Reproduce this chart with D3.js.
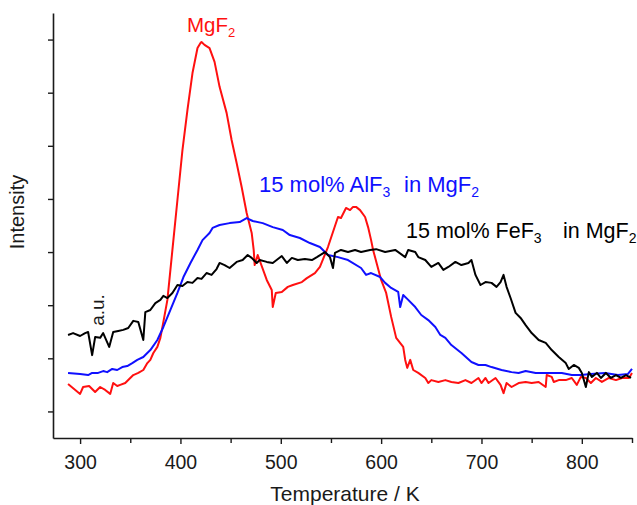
<!DOCTYPE html>
<html>
<head>
<meta charset="utf-8">
<script src="https://cdn.jsdelivr.net/npm/d3@7"></script>
<style>
  html, body { margin: 0; padding: 0; background: #fff; }
  svg { display: block; font-family: "Liberation Sans", Arial, Helvetica, sans-serif; }
</style>
</head>
<body>
<svg id="chart" width="637" height="505"></svg>
<script>
// Temperature-programmed desorption profiles, intensity in arbitrary units.

// Pure MgF2
const mgf2T = [288,300,303,309,315,320,325,330,333,337,340,345,353,358,363,367,370,373,377,380,383,387,390,392,397,402,407,412,417,420,421,424,429,434,439,446,451,456,461,466,471,473,474,477,486,491,492,495,501,507,512,521,526,534,539,547,557,560,565,569,572,575,579,584,587,590,592,600,605,610,615,622,624,626,629,632,637,644,647,650,657,664,670,677,684,690,697,700,704,707,714,719,722,725,730,737,744,750,757,764,765,770,772,777,784,790,795,799,804,809,814,820,827,834,840,847,850];
const mgf2I = [203,166,192,196,173,192,181,166,207,196,200,207,237,245,256,282,294,320,343,377,437,520,633,708,896,1084,1235,1374,1468,1487,1491,1480,1468,1416,1322,1224,1122,1035,945,847,772,708,651,689,595,557,493,546,550,569,576,587,602,621,644,719,832,828,866,858,870,870,858,832,794,745,708,595,546,456,377,343,294,264,294,256,245,226,207,218,211,218,211,207,218,207,226,207,226,207,226,200,169,207,192,207,211,207,211,192,237,230,211,218,218,226,200,230,226,207,226,211,226,218,226,226,245];

// 15 mol% AlF3 in MgF2
const alf3T = [288,300,308,312,318,323,327,332,337,342,347,352,357,363,370,377,383,390,397,403,410,417,422,429,432,439,449,459,466,472,482,492,502,509,519,529,539,547,557,567,580,585,590,599,604,610,617,619,622,627,634,640,647,654,659,664,670,680,690,697,704,710,720,730,737,744,754,770,780,790,799,809,823,836,846,850];
const alf3I = [245,241,237,245,245,252,248,260,256,267,271,282,294,305,331,369,418,482,546,606,659,708,745,772,791,802,809,813,828,817,809,794,783,764,753,734,719,689,681,670,640,614,621,606,584,565,550,493,538,520,493,463,444,418,388,377,350,320,286,275,275,267,256,248,245,252,245,245,245,237,237,241,245,237,241,260];

// 15 mol% FeF3 in MgF2
const fef3T = [288,293,300,305,308,312,315,320,323,329,333,338,343,348,353,358,363,365,370,375,380,383,387,392,397,402,407,412,417,421,426,431,436,439,444,449,456,462,467,471,476,479,486,492,501,506,511,517,524,531,536,544,549,552,554,560,567,574,580,589,595,604,614,624,627,634,637,644,650,657,662,667,674,680,687,690,694,699,704,710,715,719,722,725,729,734,739,744,750,757,764,770,777,784,787,792,797,800,804,807,810,815,819,824,829,834,839,844,849];
const fef3I = [388,395,384,395,399,312,380,377,395,343,399,403,407,414,441,437,369,474,482,508,520,535,527,546,576,572,587,584,602,599,621,614,636,659,651,640,663,670,689,678,659,670,663,659,685,659,678,670,674,670,681,700,681,640,697,708,700,708,700,708,711,700,708,681,708,700,681,670,644,659,633,644,663,651,659,670,614,576,587,584,569,587,614,569,527,471,452,425,395,369,358,331,305,282,260,275,264,245,192,248,230,245,226,245,226,237,226,237,226];

const series = [
  { name: "MgF2", T: mgf2T, I: mgf2I, color: "#ff1010" },
  { name: "AlF3", T: alf3T, I: alf3I, color: "#1010ff" },
  { name: "FeF3", T: fef3T, I: fef3I, color: "#000000" }
];

const xMajorTicks = [300, 400, 500, 600, 700, 800];
const xMinorTicks = [350, 450, 550, 650, 750, 850];
const yTicks = [100, 300, 500, 700, 900, 1100, 1300, 1500];

const xTitle = "Temperature / K";
const yTitle = "Intensity";
const unitLabel = "a.u.";

const svg = d3.select("#chart");

const x = d3.scaleLinear().domain([273, 850]).range([53, 632]);
const y = d3.scaleLinear().domain([0, 1600]).range([438, 13]);

const axisColor = "#1a1a1a";

// x axis: labelled major ticks plus unlabelled minor ticks
const gx = svg.append("g").attr("transform", `translate(0,${y(0)})`)
  .call(d3.axisBottom(x).tickValues(xMajorTicks).tickSize(6).tickSizeOuter(0).tickPadding(11));
gx.select(".domain").attr("stroke", axisColor).attr("stroke-width", 1.6);
gx.selectAll(".tick line").attr("stroke", axisColor).attr("stroke-width", 1.4);
gx.selectAll(".tick text").attr("fill", "#1a1a1a").style("font-size", "19.5px")
  .style("font-family", "'Liberation Sans', Arial, sans-serif");

const gxm = svg.append("g").attr("transform", `translate(0,${y(0)})`)
  .call(d3.axisBottom(x).tickValues(xMinorTicks).tickSize(5).tickFormat(""));
gxm.select(".domain").remove();
gxm.selectAll(".tick line").attr("stroke", axisColor).attr("stroke-width", 1.4);

// y axis: unlabelled ticks only
const gy = svg.append("g").attr("transform", `translate(${x(273)},0)`)
  .call(d3.axisLeft(y).tickValues(yTicks).tickSize(5).tickSizeOuter(0).tickFormat(""));
gy.select(".domain").attr("stroke", axisColor).attr("stroke-width", 1.6);
gy.selectAll(".tick line").attr("stroke", axisColor).attr("stroke-width", 1.4);

// curves
const line = d3.line().x(d => x(d[0])).y(d => y(d[1]));
series.forEach(s => {
  const pts = s.T.map((t, i) => [t, s.I[i]]);
  svg.append("path")
    .datum(pts)
    .attr("fill", "none")
    .attr("stroke", s.color)
    .attr("stroke-width", 2)
    .attr("stroke-linejoin", "round")
    .attr("d", line);
});

// axis titles
svg.append("text")
  .attr("x", 345).attr("y", 500.5)
  .attr("text-anchor", "middle")
  .style("font-size", "21px").attr("fill", "#1a1a1a")
  .text(xTitle);

svg.append("text")
  .attr("transform", "translate(24,212) rotate(-90)")
  .attr("text-anchor", "middle")
  .style("font-size", "20px").attr("fill", "#1a1a1a")
  .text(yTitle);

svg.append("text")
  .attr("transform", "translate(104,310) rotate(-90)")
  .attr("text-anchor", "middle")
  .style("font-size", "19px").attr("fill", "#1a1a1a")
  .text(unitLabel);

// curve labels with subscripts
function chemLabel(parts, xPos, yPos, size, color) {
  const t = svg.append("text").attr("x", xPos).attr("y", yPos)
    .style("font-size", size + "px").attr("fill", color);
  parts.forEach(p => {
    const ts = t.append("tspan").text(p.text);
    if (p.x !== undefined) ts.attr("x", p.x);
    if (p.sub) {
      ts.style("font-size", Math.round(size * 0.65) + "px").attr("dy", 5);
    } else if (p.after) {
      ts.attr("dy", -5);
    }
  });
  return t;
}

chemLabel([{ text: "MgF" }, { text: "2", sub: true }], 187, 32, 20.5, "#ff1010");
chemLabel([
  { text: "15 mol% AlF" }, { text: "3", sub: true },
  { text: "in MgF", x: 404, after: true }, { text: "2", sub: true }
], 259, 192, 22, "#1010ff");
chemLabel([
  { text: "15 mol% FeF" }, { text: "3", sub: true },
  { text: "in MgF", x: 563, after: true }, { text: "2", sub: true }
], 406, 238, 21.5, "#000000");
</script>
</body>
</html>
